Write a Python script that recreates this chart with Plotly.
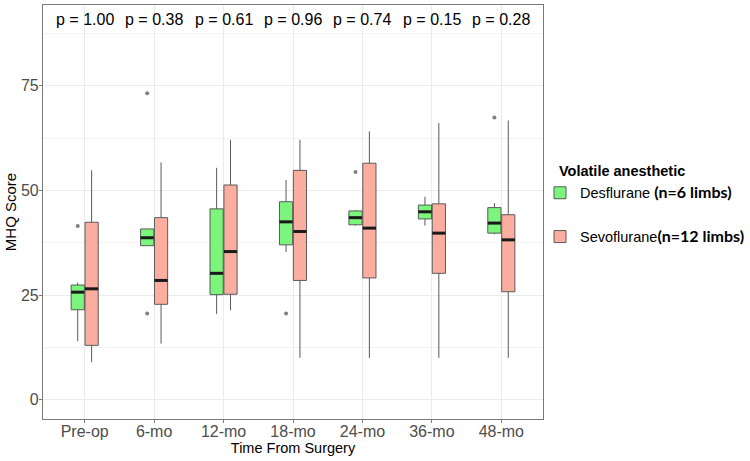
import numpy as np
import plotly.graph_objects as go

categories = ["Pre-op", "6-mo", "12-mo", "18-mo", "24-mo", "36-mo", "48-mo"]
p_values = ["p = 1.00", "p = 0.38", "p = 0.61", "p = 0.96", "p = 0.74", "p = 0.15", "p = 0.28"]

# Desflurane box statistics
desf_low = [14.0, 36.8, 20.5, 35.3, 41.6, 41.6, 39.5]
desf_q1 = [21.5, 36.8, 25.1, 37.0, 41.8, 43.2, 39.8]
desf_med = [25.7, 38.7, 30.2, 42.5, 43.5, 44.9, 42.2]
desf_q3 = [27.4, 40.8, 45.6, 47.3, 45.1, 46.5, 45.9]
desf_high = [28.0, 40.8, 55.4, 52.5, 45.3, 48.5, 47.0]
desf_out_cat = ["Pre-op", "6-mo", "6-mo", "18-mo", "24-mo", "48-mo"]
desf_out_val = [41.5, 73.2, 20.6, 20.6, 54.4, 67.4]

# Sevoflurane box statistics
sevo_low = [9.0, 13.4, 21.4, 10.0, 10.0, 10.0, 10.0]
sevo_q1 = [13.0, 22.8, 25.2, 28.5, 29.1, 30.2, 25.8]
sevo_med = [26.5, 28.5, 35.4, 40.2, 41.0, 39.8, 38.2]
sevo_q3 = [42.4, 43.5, 51.3, 54.8, 56.5, 46.8, 44.2]
sevo_high = [54.8, 56.7, 62.1, 62.1, 64.1, 66.1, 66.7]

GREEN = "#7CF57C"
SALMON = "#FBAE9F"
EDGE = "#5a5a5a"
BOXW = 0.19
OFF = 0.1

idx = np.arange(len(categories))
cat_index = {c: i for i, c in enumerate(categories)}

fig = go.Figure()

def add_group(name, xs, low, q1, med, q3, high, color, group):
    fig.add_trace(go.Box(
        x=list(xs), lowerfence=low, q1=q1, median=med, q3=q3, upperfence=high,
        width=BOXW, whiskerwidth=0, fillcolor=color,
        line=dict(color=EDGE, width=1), name=name, legendgroup=group,
        boxpoints=False, hoverinfo="skip"))
    mx, my = [], []
    for x, m in zip(xs, med):
        mx += [x - BOXW / 2, x + BOXW / 2, None]
        my += [m, m, None]
    fig.add_trace(go.Scatter(x=mx, y=my, mode="lines",
                             line=dict(color="#1a1a1a", width=3),
                             showlegend=False, hoverinfo="skip"))

desf_name = ('Desflurane <span style="font-family:Lato;font-weight:bold;font-size:16px">'
             '(n=6 limbs)</span>')
sevo_name = ('Sevoflurane<span style="font-family:Lato;font-weight:bold;font-size:16px">'
             '(n=12 limbs)</span>')

add_group(desf_name, idx - OFF, desf_low, desf_q1, desf_med, desf_q3, desf_high, GREEN, "d")
add_group(sevo_name, idx + OFF, sevo_low, sevo_q1, sevo_med, sevo_q3, sevo_high, SALMON, "s")

fig.add_trace(go.Scatter(
    x=[cat_index[c] - OFF for c in desf_out_cat], y=desf_out_val, mode="markers",
    marker=dict(color="#7f7f7f", size=4), showlegend=False, hoverinfo="skip"))

for i, p in enumerate(p_values):
    fig.add_annotation(x=i, y=90.9, text=p, showarrow=False, xref="x", yref="y",
                       font=dict(size=16, color="black", family="Liberation Sans, Arial"))

# legend title drawn as text
fig.add_annotation(x=(557 - 43) / 500, y=(419.3 - 171) / 414.3, xref="paper", yref="paper",
                   xanchor="left", yanchor="middle", showarrow=False,
                   text="<b>Volatile anesthetic</b>",
                   font=dict(size=14.5, color="black", family="Liberation Sans, Arial"))

fig.update_layout(
    width=750, height=461, autosize=False,
    margin=dict(l=43, r=207, t=5, b=42, autoexpand=False),
    paper_bgcolor="white", plot_bgcolor="white",
    font=dict(family="Liberation Sans, Arial", size=14, color="#4d4d4d"),
    legend=dict(
        x=0.994, xanchor="left", y=0.585, yanchor="top",
        font=dict(size=14.5, color="black"), tracegroupgap=22,
        itemwidth=30,
        traceorder="grouped", bgcolor="rgba(0,0,0,0)"),
    showlegend=True,
)
fig.update_xaxes(
    range=[-0.6, 6.6], tickvals=list(idx), ticktext=categories,
    showgrid=True, gridcolor="#ebebeb", gridwidth=1, zeroline=False,
    showline=True, mirror=True, linecolor="#7a7a7a", linewidth=1.2,
    ticks="outside", ticklen=3, tickcolor="#7a7a7a", ticklabelstandoff=-5,
    tickfont=dict(size=16, color="#4d4d4d"),
    title=dict(text="Time From Surgery", font=dict(size=14.5, color="black"), standoff=1))
fig.update_yaxes(
    range=[-4.6, 94.3], tickvals=[0, 25, 50, 75],
    showgrid=True, gridcolor="#ebebeb", gridwidth=1, zeroline=False,
    minor=dict(tickvals=[12.5, 37.5, 62.5, 87.5], showgrid=True, gridcolor="#f3f3f3", ticklen=0),
    showline=True, mirror=True, linecolor="#7a7a7a", linewidth=1.2,
    ticks="outside", ticklen=3, tickcolor="#7a7a7a", ticklabelstandoff=-3,
    tickfont=dict(size=16, color="#4d4d4d"),
    title=dict(text="MHQ Score", font=dict(size=15, color="black"), standoff=0))

fig.write_html("out.html")
